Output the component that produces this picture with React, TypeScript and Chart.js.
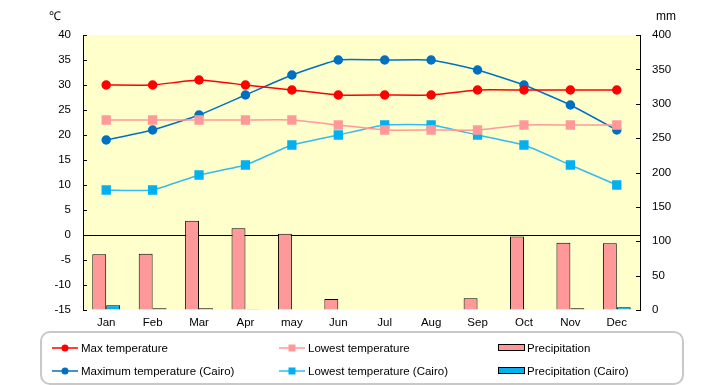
import React, { useEffect, useRef } from "react";
import { Chart, registerables } from "chart.js";

Chart.register(...registerables);

const months = ["Jan", "Feb", "Mar", "Apr", "may", "Jun", "Jul", "Aug", "Sep", "Oct", "Nov", "Dec"];
const maxTemp = [30, 30, 31, 30, 29, 28, 28, 28, 29, 29, 29, 29];
const lowTemp = [23, 23, 23, 23, 23, 22, 21, 21, 21, 22, 22, 22];
const precip = [81, 82, 130, 119, 111, 16, 0, 0, 17, 107, 98, 97];
const maxTempCairo = [19, 21, 24, 28, 32, 35, 35, 35, 33, 30, 26, 21];
const lowTempCairo = [9, 9, 12, 14, 18, 20, 22, 22, 20, 18, 14, 10];
const precipCairo = [7, 2.5, 2.5, 1, 0, 0, 0, 0, 0, 0, 2.5, 4];

const tempTicks = { min: -15, max: 40, step: 5 };
const mmTicks = { min: 0, max: 400, step: 50 };

const FONT = "'Liberation Sans', Arial, sans-serif";

// legend slot positions (layout only)
const legendSlots = [
  { x: 52, y: 348 },
  { x: 279, y: 348 },
  { x: 498, y: 348 },
  { x: 52, y: 371 },
  { x: 279, y: 371 },
  { x: 498, y: 371 },
];

const decorPlugin = {
  id: "decor",
  beforeDraw(chart: any) {
    const { ctx, chartArea } = chart;
    ctx.save();
    ctx.fillStyle = "#FFFFCC";
    ctx.fillRect(chartArea.left, chartArea.top, chartArea.right - chartArea.left, chartArea.bottom - chartArea.top);
    ctx.restore();
  },
  afterDraw(chart: any) {
    const { ctx, chartArea } = chart;
    const y = chart.scales.y;
    const y1 = chart.scales.y1;
    ctx.save();
    ctx.strokeStyle = "#000";
    ctx.lineWidth = 1;
    ctx.beginPath();
    y.ticks.forEach((t: any) => {
      const py = Math.round(y.getPixelForValue(t.value)) + 0.5;
      ctx.moveTo(chartArea.left, py);
      ctx.lineTo(chartArea.left + 4, py);
    });
    y1.ticks.forEach((t: any) => {
      const py = Math.round(y1.getPixelForValue(t.value)) + 0.5;
      ctx.moveTo(chartArea.right - 4, py);
      ctx.lineTo(chartArea.right, py);
    });
    ctx.stroke();

    // unit labels
    ctx.fillStyle = "#000";
    ctx.font = `12px ${FONT}`;
    ctx.textAlign = "center";
    ctx.textBaseline = "middle";
    ctx.fillText("\u2103", 55, 17);
    ctx.fillText("mm", 666, 17);

    // legend box
    ctx.strokeStyle = "#C8C8C8";
    ctx.lineWidth = 2;
    ctx.beginPath();
    (ctx as any).roundRect(41, 332, 642, 52, 9);
    ctx.stroke();

    // legend items
    const order = [0, 1, 2, 3, 4, 5];
    order.forEach((di, i) => {
      const ds = chart.data.datasets[di];
      const slot = legendSlots[i];
      ctx.save();
      if (ds.type === "line") {
        ctx.strokeStyle = ds.borderColor;
        ctx.lineWidth = 1.5;
        ctx.beginPath();
        ctx.moveTo(slot.x, slot.y);
        ctx.lineTo(slot.x + 26, slot.y);
        ctx.stroke();
        ctx.fillStyle = ds.pointBackgroundColor;
        const cx = slot.x + 13;
        if (ds.pointStyle === "rect") {
          ctx.fillRect(cx - 3.5, slot.y - 3.5, 7, 7);
        } else {
          ctx.beginPath();
          ctx.arc(cx, slot.y, 3.5, 0, Math.PI * 2);
          ctx.fill();
        }
      } else {
        ctx.fillStyle = ds.backgroundColor;
        ctx.fillRect(slot.x, slot.y - 3, 26, 5);
        ctx.strokeStyle = "#000";
        ctx.lineWidth = 1;
        ctx.strokeRect(slot.x + 0.5, slot.y - 3.5, 26, 6);
      }
      ctx.fillStyle = "#000";
      ctx.font = `11.5px ${FONT}`;
      ctx.textAlign = "left";
      ctx.textBaseline = "middle";
      ctx.fillText(ds.label, slot.x + 29, slot.y + 1);
      ctx.restore();
    });
    ctx.restore();
  },
};

export default function App() {
  const ref = useRef<HTMLCanvasElement | null>(null);

  useEffect(() => {
    if (!ref.current) return;
    const lineCommon = {
      type: "line" as const,
      yAxisID: "y",
      borderWidth: 1.5,
      tension: 0.15,
      order: 1,
    };
    const barCommon = {
      type: "bar" as const,
      yAxisID: "y1",
      borderColor: "#000",
      borderWidth: 1,
      categoryPercentage: 0.6,
      barPercentage: 1.0,
      order: 2,
    };
    const chart = new Chart(ref.current, {
      data: {
        labels: months,
        datasets: [
          {
            ...lineCommon,
            label: "Max temperature",
            data: maxTemp,
            borderColor: "#FF0000",
            pointBackgroundColor: "#FF0000",
            pointBorderColor: "#FF0000",
            pointStyle: "circle",
            pointRadius: 4,
          },
          {
            ...lineCommon,
            label: "Lowest temperature",
            data: lowTemp,
            borderColor: "#FF9999",
            pointBackgroundColor: "#FF9999",
            pointBorderColor: "#FF9999",
            pointStyle: "rect",
            pointRadius: 5.5,
          },
          {
            ...barCommon,
            label: "Precipitation",
            data: precip,
            backgroundColor: "#FF9999",
          },
          {
            ...lineCommon,
            label: "Maximum temperature (Cairo)",
            data: maxTempCairo,
            borderColor: "#0070C0",
            pointBackgroundColor: "#0070C0",
            pointBorderColor: "#0070C0",
            pointStyle: "circle",
            pointRadius: 4,
          },
          {
            ...lineCommon,
            label: "Lowest temperature (Cairo)",
            data: lowTempCairo,
            borderColor: "#33BBEE",
            pointBackgroundColor: "#00B0F0",
            pointBorderColor: "#00B0F0",
            pointStyle: "rect",
            pointRadius: 5.5,
          },
          {
            ...barCommon,
            label: "Precipitation (Cairo)",
            data: precipCairo,
            backgroundColor: "#00B0F0",
          },
        ] as any,
      },
      options: {
        responsive: false,
        animation: false,
        devicePixelRatio: 1,
        layout: { padding: { top: 35, left: 0, right: 0, bottom: 0 } },
        plugins: {
          legend: { display: false },
          tooltip: { enabled: false },
        },
        scales: {
          x: {
            grid: { display: false, drawTicks: false },
            border: { display: false },
            ticks: {
              color: "#000",
              font: { family: FONT, size: 11.5 },
              padding: 6,
              maxRotation: 0,
            },
            afterFit(scale: any) {
              scale.height = 75;
            },
          },
          y: {
            position: "left",
            min: tempTicks.min,
            max: tempTicks.max,
            ticks: {
              stepSize: tempTicks.step,
              color: "#000",
              font: { family: FONT, size: 11.5 },
              padding: 12,
            },
            grid: {
              display: true,
              drawTicks: false,
              lineWidth: 1,
              color: (c: any) => (c.tick && c.tick.value === 0 ? "#000" : "rgba(0,0,0,0)"),
            },
            border: { display: true, color: "#000", width: 1 },
            afterFit(scale: any) {
              scale.width = 83;
            },
          },
          y1: {
            position: "right",
            min: mmTicks.min,
            max: mmTicks.max,
            ticks: {
              stepSize: mmTicks.step,
              color: "#000",
              font: { family: FONT, size: 11.5 },
              padding: 12,
            },
            grid: { display: true, drawTicks: false, drawOnChartArea: false, color: "rgba(0,0,0,0)" },
            border: { display: true, color: "#000", width: 1 },
            afterFit(scale: any) {
              scale.width = 80;
            },
          },
        },
      } as any,
      plugins: [decorPlugin],
    });
    return () => chart.destroy();
  }, []);

  return (
    <div style={{ position: "absolute", left: 0, top: 0, width: 720, height: 385, background: "#fff" }}>
      <canvas ref={ref} width={720} height={385} style={{ display: "block", width: 720, height: 385 }} />
    </div>
  );
}
